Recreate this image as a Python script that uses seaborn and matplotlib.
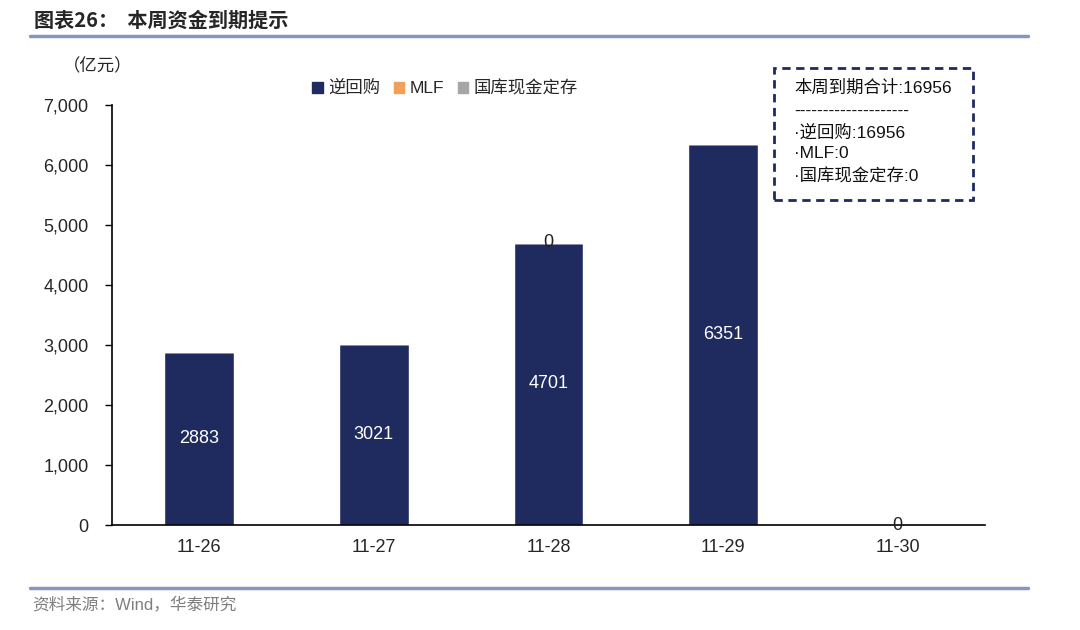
import matplotlib
matplotlib.use("Agg")
import matplotlib.pyplot as plt
import seaborn as sns
import pandas as pd
from matplotlib.patches import Rectangle, Patch
from matplotlib.lines import Line2D

dates = ["11-26", "11-27", "11-28", "11-29", "11-30"]
reverse_repo = [2883, 3021, 4701, 6351, 0]
mlf = [0, 0, 0, 0, 0]
treasury_deposit = [0, 0, 0, 0, 0]
series_names = ["逆回购", "MLF", "国库现金定存"]
yticks = [0, 1000, 2000, 3000, 4000, 5000, 6000, 7000]
total = sum(reverse_repo) + sum(mlf) + sum(treasury_deposit)

sns.set_theme(style="white")
plt.rcParams["font.family"] = ["Liberation Sans", "Noto Sans CJK SC", "DejaVu Sans"]

navy = "#1F2A5E"
orange = "#F0A05A"
grey = "#A6A6A6"
rule = "#8797BA"

fig = plt.figure(figsize=(10.8, 6.3), dpi=100)
ax = fig.add_axes([112/1080, 105/630, (985-112)/1080, 420/630])

df = pd.DataFrame({"date": dates, "逆回购": reverse_repo, "MLF": mlf, "国库现金定存": treasury_deposit})
sns.barplot(data=df, x="date", y="逆回购", color=navy, width=0.4, ax=ax, saturation=1)
bottom1 = [a for a in reverse_repo]
ax.bar(range(len(dates)), mlf, bottom=bottom1, width=0.4, color=orange)
bottom2 = [a + b for a, b in zip(reverse_repo, mlf)]
ax.bar(range(len(dates)), treasury_deposit, bottom=bottom2, width=0.4, color=grey)

# data labels
for i, v in enumerate(reverse_repo):
    if v > 0:
        ax.text(i, v / 2, f"{v}", ha="center", va="center", color="white", fontsize=13)
    else:
        ax.text(i, v, f"{v}", ha="center", va="center", color="#222222", fontsize=13)
ax.text(2, reverse_repo[2], "0", ha="center", va="center", color="#222222", fontsize=13)

ax.set_xlim(-0.5, 4.5)
ax.set_ylim(0, 7000)
ax.set_yticks(yticks)
ax.set_yticklabels([f"{t:,}" for t in yticks], fontsize=13)
ax.set_xticks(range(len(dates)))
ax.set_xticklabels(dates, fontsize=13)
ax.set_xticks([i + 0.5 for i in range(-1, len(dates))], minor=True)
ax.tick_params(axis="x", which="major", length=0, pad=10)
ax.tick_params(axis="x", which="minor", length=5, width=1, color="black", direction="out")
ax.tick_params(axis="y", length=5, width=1, color="black", direction="out", left=True, pad=12)
ax.set_xlabel("")
ax.set_ylabel("")
for s in ["top", "right"]:
    ax.spines[s].set_visible(False)
for s in ["left", "bottom"]:
    ax.spines[s].set_color("black")
    ax.spines[s].set_linewidth(1.2)

# legend
handles = [Patch(color=navy), Patch(color=orange), Patch(color=grey)]
fig.legend(handles, series_names, loc="center", bbox_to_anchor=(445/1080, 1 - 88/630), ncol=3,
           frameon=False, fontsize=12.5, handlelength=0.6, handleheight=0.6, handletextpad=0.3,
           columnspacing=0.8)

# unit
fig.text(63/1080, 1 - 66/630, "（亿元）", fontsize=12.5, va="center", ha="left")

# title and rules
fig.text(34/1080, 1 - 20/630, "图表26：  本周资金到期提示", fontsize=14.5, fontweight="bold",
         va="center", ha="left", family=["Noto Sans CJK SC", "DejaVu Sans"])
fig.add_artist(Line2D([30/1080, 1028/1080], [1 - 36/630, 1 - 36/630], color=rule, lw=2.5))
fig.add_artist(Line2D([30/1080, 1028/1080], [1 - 588/630, 1 - 588/630], color=rule, lw=2.5))
fig.text(32/1080, 1 - 604/630, "资料来源：Wind，华泰研究", fontsize=12, color="#7F7F7F",
         va="center", ha="left")

# annotation box
fig.add_artist(Rectangle((774/1080, 1 - 200/630), 199/1080, 132/630, fill=False,
                         edgecolor=navy, lw=2, linestyle=(0, (3, 2))))
lines = [(88, f"本周到期合计:{total}"), (111, "-" * 20), (133, f"·逆回购:{sum(reverse_repo)}"),
         (154, f"·MLF:{sum(mlf)}"), (176, f"·国库现金定存:{sum(treasury_deposit)}")]
for y, t in lines:
    fig.text(794/1080, 1 - y/630, t, fontsize=12.5, va="center", ha="left", color="#111111")

fig.savefig("out.png", dpi=100)
